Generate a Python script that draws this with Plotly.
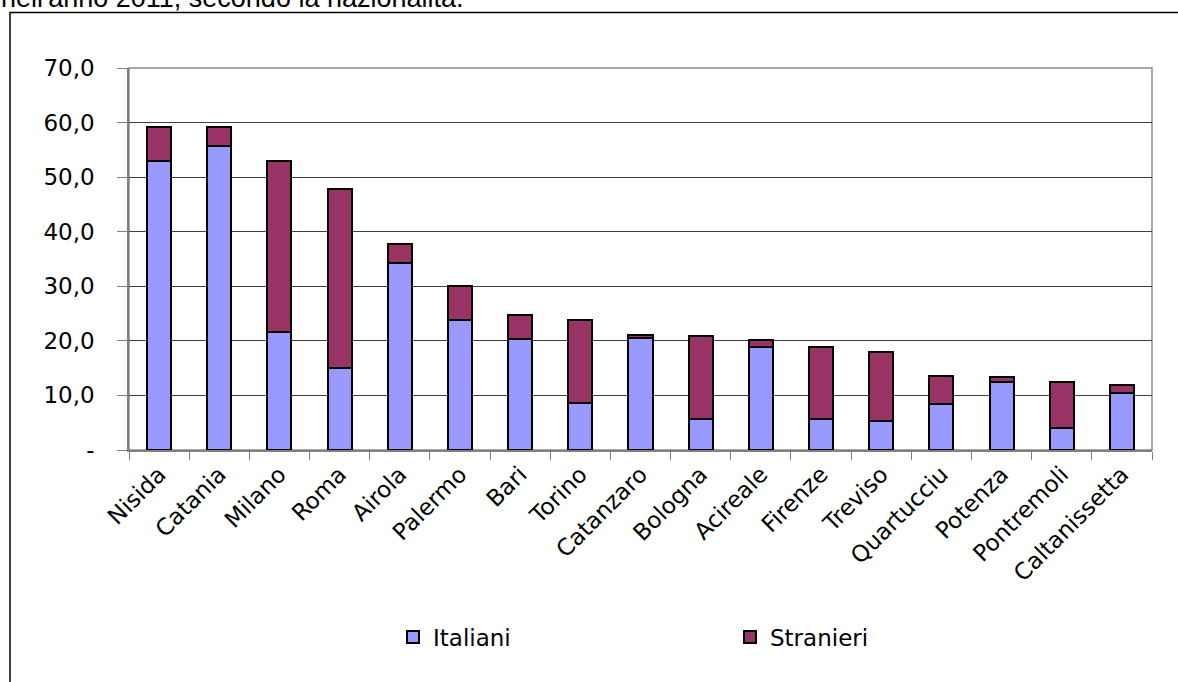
import plotly.graph_objects as go

categories = ["Nisida", "Catania", "Milano", "Roma", "Airola", "Palermo", "Bari", "Torino",
              "Catanzaro", "Bologna", "Acireale", "Firenze", "Treviso", "Quartucciu",
              "Potenza", "Pontremoli", "Caltanissetta"]
italiani = [53.0, 55.7, 21.7, 15.1, 34.2, 23.8, 20.3, 8.7, 20.5, 5.7, 18.9, 5.7, 5.3, 8.4, 12.5, 4.0, 10.4]
stranieri = [6.1, 3.4, 31.2, 32.7, 3.5, 6.2, 4.4, 15.1, 0.5, 15.1, 1.2, 13.2, 12.7, 5.2, 0.8, 8.5, 1.5]
ytick_vals = [0, 10, 20, 30, 40, 50, 60, 70]
ytick_text = ["-", "10,0", "20,0", "30,0", "40,0", "50,0", "60,0", "70,0"]
title_text = "nell'anno 2011, secondo la nazionalità."

# body margin removed via post_script, so page pixels == figure pixels
OFF = 0
W, H = 1178 - OFF, 682 - OFF
P_LEFT, P_RIGHT, P_TOP, P_BOTTOM = 129, 1152, 68, 450
L = P_LEFT - OFF
T = P_TOP - OFF
R = W - (P_RIGHT - OFF)
B = H - (P_BOTTOM - OFF)
pw, ph = W - L - R, H - T - B

def px_x(p):  # page pixel -> paper x
    return (p - OFF - L) / pw

def px_y(p):  # page pixel -> paper y
    return (H - B - (p - OFF)) / ph

FONT = "DejaVu Sans"

fig = go.Figure()
fig.add_trace(go.Bar(x=categories, y=italiani, name="Italiani",
                     marker=dict(color="#9999FF", line=dict(color="black", width=2))))
fig.add_trace(go.Bar(x=categories, y=stranieri, name="Stranieri",
                     marker=dict(color="#993366", line=dict(color="black", width=2))))

fig.update_layout(
    width=W, height=H,
    margin=dict(l=L, r=R, t=T, b=B),
    barmode="stack", bargap=0.6,
    paper_bgcolor="white", plot_bgcolor="white",
    font=dict(family=FONT, size=23, color="black"),
    showlegend=True,
    legend=dict(orientation="h", x=px_x(393), xanchor="left", y=px_y(637), yanchor="middle",
                entrywidth=292, entrywidthmode="pixels", font=dict(family=FONT, size=23),
                traceorder="normal", bgcolor="rgba(0,0,0,0)"),
    xaxis=dict(range=[-0.5, len(categories) - 0.5], tickangle=-45, ticks="outside",
               tickson="boundaries", ticklen=8, tickcolor="#808080", tickwidth=1,
               showline=True, linecolor="#808080", linewidth=1.5, showgrid=False,
               tickfont=dict(family=FONT, size=23)),
    yaxis=dict(range=[0, 70], tickvals=ytick_vals, ticktext=ytick_text, ticks="outside",
               ticklen=10, tickcolor="#808080", tickwidth=1, showline=True, linecolor="#808080",
               linewidth=1.5, showgrid=True, gridcolor="#404040", gridwidth=1, zeroline=False,
               ticklabelstandoff=18, tickfont=dict(family=FONT, size=23)),
    shapes=[
        dict(type="rect", xref="paper", yref="paper", x0=0, x1=1, y0=0, y1=1,
             line=dict(color="#8c8c8c", width=1.5), layer="below"),
        dict(type="rect", xref="paper", yref="paper", x0=px_x(10), x1=px_x(1195),
             y0=px_y(700), y1=px_y(12.5), line=dict(color="black", width=1.5)),
    ],
    annotations=[
        dict(text=title_text, xref="paper", yref="paper", x=px_x(-1), y=px_y(15.5),
             xanchor="left", yanchor="bottom", showarrow=False,
             font=dict(family="Liberation Sans", size=27, color="black")),
    ],
)

fig.write_html("out.html", config={"displayModeBar": False},
               post_script="document.body.style.margin='0';")
